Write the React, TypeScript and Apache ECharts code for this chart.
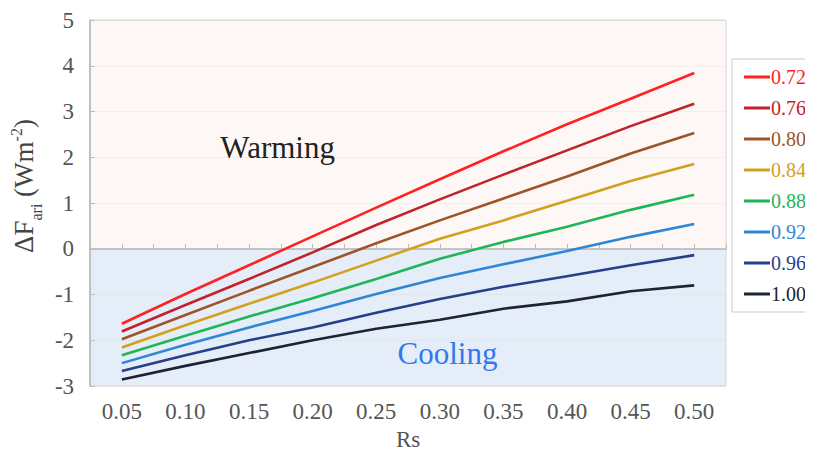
import React, { useEffect, useRef } from "react";
import * as echarts from "echarts";

// Surface reflectance values along the x axis
const rsValues = [0.05, 0.1, 0.15, 0.2, 0.25, 0.3, 0.35, 0.4, 0.45, 0.5];

// Single-scattering albedo of each curve
const ssaLabels = ["0.72", "0.76", "0.80", "0.84", "0.88", "0.92", "0.96", "1.00"];
const ssaColors = ["#ff2222", "#c1222c", "#9e5428", "#d2a01c", "#1fb55a", "#2d87d6", "#253f8c", "#1b2430"];

// Aerosol radiative forcing (Wm-2) for each albedo, along rsValues
const forcing072 = [-1.64, -0.99, -0.36, 0.27, 0.9, 1.52, 2.13, 2.72, 3.28, 3.84];
const forcing076 = [-1.81, -1.23, -0.66, -0.08, 0.52, 1.08, 1.62, 2.15, 2.68, 3.17];
const forcing080 = [-1.98, -1.45, -0.92, -0.4, 0.12, 0.62, 1.1, 1.58, 2.08, 2.53];
const forcing084 = [-2.16, -1.67, -1.2, -0.74, -0.26, 0.22, 0.62, 1.05, 1.48, 1.85];
const forcing088 = [-2.33, -1.9, -1.48, -1.08, -0.66, -0.22, 0.15, 0.48, 0.85, 1.18];
const forcing092 = [-2.5, -2.1, -1.72, -1.36, -0.99, -0.64, -0.34, -0.05, 0.26, 0.54];
const forcing096 = [-2.67, -2.33, -2.0, -1.72, -1.4, -1.1, -0.83, -0.6, -0.36, -0.14];
const forcing100 = [-2.86, -2.56, -2.28, -2.0, -1.75, -1.55, -1.31, -1.15, -0.93, -0.8];

const forcingSets = [forcing072, forcing076, forcing080, forcing084, forcing088, forcing092, forcing096, forcing100];

// Region labels and where they sit in data space
const warmingLabel = { text: "Warming", rs: 0.1725, value: 2.21 };
const coolingLabel = { text: "Cooling", rs: 0.306, value: -2.28 };

const SERIF = "Liberation Serif, Times New Roman, serif";

export default function App() {
  const ref = useRef<HTMLDivElement>(null);

  useEffect(() => {
    if (!ref.current) return;
    const chart = echarts.init(ref.current, undefined, { renderer: "svg" });

    const series: any[] = ssaLabels.map((name, i) => ({
      name,
      type: "line",
      data: rsValues.map((x, j) => [x, forcingSets[i][j]]),
      showSymbol: false,
      symbol: "none",
      lineStyle: { color: ssaColors[i], width: 2.6 },
      itemStyle: { color: ssaColors[i] },
      z: 10 - i,
    }));

    // Shaded warming / cooling regions and their captions
    series[0].markArea = {
      silent: true,
      z: -1,
      data: [
        [{ yAxis: 0, itemStyle: { color: "#fdf8f5" } }, { yAxis: 5 }],
        [{ yAxis: -3, itemStyle: { color: "#e5edf8" } }, { yAxis: 0 }],
      ],
    };
    series[0].markPoint = {
      silent: true,
      symbol: "rect",
      symbolSize: 1,
      itemStyle: { color: "rgba(0,0,0,0)" },
      data: [
        {
          coord: [warmingLabel.rs, warmingLabel.value],
          label: {
            show: true,
            position: "inside",
            formatter: warmingLabel.text,
            fontFamily: SERIF,
            fontSize: 31,
            color: "#222222",
          },
        },
        {
          coord: [coolingLabel.rs, coolingLabel.value],
          label: {
            show: true,
            position: "inside",
            formatter: coolingLabel.text,
            fontFamily: SERIF,
            fontSize: 31,
            color: "#2f78f0",
          },
        },
      ],
    };

    chart.setOption({
      animation: false,
      backgroundColor: "#ffffff",
      textStyle: { fontFamily: SERIF },
      grid: {
        left: 86,
        right: 87,
        top: 20,
        bottom: 72,
        show: true,
        borderColor: "#d6d6d6",
        borderWidth: 1,
      },
      legend: {
        orient: "vertical",
        left: 732,
        top: 59,
        padding: [8, 4, 8, 12],
        borderColor: "#c9c9c9",
        borderWidth: 1,
        itemGap: 11,
        itemWidth: 26,
        itemHeight: 3,
        icon: "rect",
        textStyle: { fontFamily: SERIF, fontSize: 20, padding: [0, 0, 0, -4] },
        data: ssaLabels.map((name, i) => ({
          name,
          textStyle: { color: ssaColors[i], fontFamily: SERIF, fontSize: 20 },
        })),
      },
      xAxis: {
        type: "value",
        min: 0.025,
        max: 0.525,
        interval: 0.025,
        name: "Rs",
        nameLocation: "middle",
        nameGap: 40,
        nameTextStyle: { fontFamily: SERIF, fontSize: 23, color: "#555555" },
        axisLine: { show: true, lineStyle: { color: "#b5b5b5", width: 1.5 } },
        axisTick: { show: true, inside: true, length: 5, lineStyle: { color: "#bdbdbd" } },
        splitLine: { show: false },
        axisLabel: {
          margin: 14,
          fontFamily: SERIF,
          fontSize: 23,
          color: "#555555",
          formatter: (v: number) => {
            const k = Math.round(v * 1000);
            return k % 50 === 0 && k >= 50 && k <= 500 ? (k / 1000).toFixed(2) : "";
          },
        },
      },
      yAxis: [
        {
          type: "value",
          min: -3,
          max: 5,
          interval: 1,
          name: "{d|ΔF}{s|ari}{d| (Wm}{p|-2}{d|)}",
          nameLocation: "middle",
          nameGap: 50,
          nameRotate: 90,
          nameTextStyle: {
            padding: [0, 0, 0, 34],
            rich: {
              d: { fontFamily: SERIF, fontSize: 27, color: "#444444", lineHeight: 32 },
              s: { fontFamily: SERIF, fontSize: 16, color: "#444444", verticalAlign: "bottom", lineHeight: 32, padding: [0, 0, -4, 0] },
              p: { fontFamily: SERIF, fontSize: 16, color: "#444444", verticalAlign: "top", lineHeight: 32 },
            },
          },
          axisLine: { show: true, lineStyle: { color: "#b5b5b5", width: 1.5 } },
          axisTick: { show: true, inside: true, length: 5, lineStyle: { color: "#bdbdbd" } },
          splitLine: { show: true, lineStyle: { color: "rgba(0,0,0,0.07)", type: "dotted" } },
          axisLabel: { margin: 16, fontFamily: SERIF, fontSize: 23, color: "#555555" },
        },
      ],
      series,
    });

    return () => chart.dispose();
  }, []);

  return <div ref={ref} style={{ width: 813, height: 458, margin: -8 }} />;
}
